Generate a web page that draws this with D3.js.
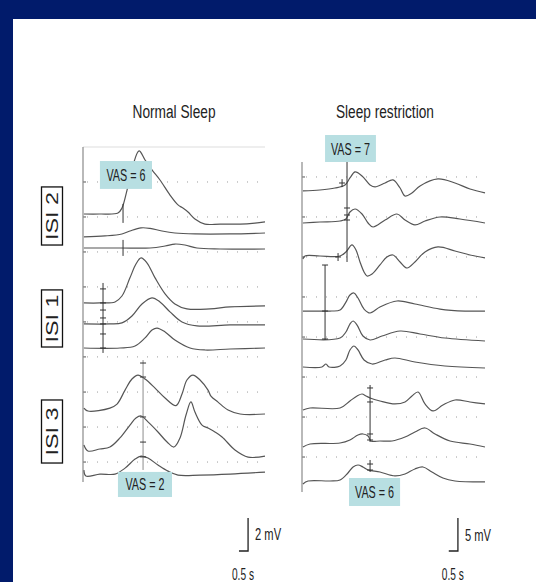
<!DOCTYPE html>
<html>
<head>
<meta charset="utf-8">
<script src="https://cdn.jsdelivr.net/npm/d3@7"></script>
<style>
  html, body { margin: 0; padding: 0; background: #011b6b; }
  svg { display: block; }
  text { font-family: "Liberation Sans Narrow", "Liberation Sans", Arial, sans-serif; fill: #222; }
</style>
</head>
<body>
<script>
var w = 536,
    h = 582;

// time in s, amplitude in mV (relative to each trace's baseline)
var normalBaselines = [16.24, 14.85, 14.18, 10.85, 9.58, 8.12, 4.48, 2.12, 0.48];
var normalTraces = [
  [[0.05,0],[0.93,0],[1.92,0.06],[2.14,0.36],[2.42,1.45],[2.75,2.97],[3.08,3.82],[3.41,3.27],[3.79,2.67],[4.23,2.06],[4.78,1.15],[5.22,0.55],[5.49,0.36],[5.77,0.12],[6.15,-0.3],[6.7,-0.61],[7.53,-0.61],[8.63,-0.61],[9.45,-0.55],[10,-0.48]],
  [[0.05,0],[1.21,0.06],[2.14,0.18],[2.58,0.36],[3.19,0.55],[3.68,0.52],[4.34,0.36],[5.05,0.24],[6.15,0.18],[8.08,0.18],[10,0.24]],
  [[0.05,0],[2.03,0],[3.68,0],[4.51,0.12],[5.05,0.24],[5.6,0.18],[6.26,0],[7.53,-0.06],[10,-0.06]],
  [[0.05,0],[0.93,0],[1.76,0.06],[2.14,0.42],[2.58,1.52],[2.91,2.36],[3.19,2.73],[3.52,2.42],[3.96,1.52],[4.51,0.55],[5.05,-0.06],[5.71,-0.36],[6.98,-0.36],[8.08,-0.24],[10,-0.18]],
  [[0.05,0],[1.48,0],[2.14,0.06],[2.69,0.48],[3.24,1.21],[3.79,1.58],[4.23,1.33],[4.78,0.73],[5.44,0.12],[6.26,-0.12],[8.08,-0.06],[10,-0.06]],
  [[0.05,0],[2.03,0],[2.86,0.12],[3.41,0.61],[3.79,1.09],[4.07,1.21],[4.51,0.97],[5.05,0.48],[5.88,0],[6.7,-0.12],[8.08,-0.06],[10,0]],
  [[0.05,0],[0.27,-0.18],[1.48,0],[1.87,0.24],[2.31,1.09],[2.69,1.76],[3.02,2.0],[3.41,1.76],[3.96,1.21],[4.51,0.61],[5.11,0.15],[5.44,0.85],[5.71,1.7],[6.04,2.0],[6.43,1.7],[6.87,1.09],[7.03,0.73],[7.42,0.36],[7.97,-0.12],[8.63,-0.36],[10,-0.36]],
  [[0.05,0.12],[0.27,-0.24],[0.93,-0.12],[1.48,0],[2.03,0.55],[2.58,1.33],[2.91,1.76],[3.19,1.88],[3.57,1.52],[4.12,0.91],[4.62,0.3],[5.0,0],[5.33,0.55],[5.66,1.94],[5.93,2.73],[6.15,2.12],[6.54,1.33],[6.87,1.15],[7.25,0.91],[7.64,0.61],[8.35,-0.18],[9.07,-0.61],[10,-0.55]],
  [[0.05,0.24],[0.16,-0.12],[0.93,0],[1.76,0],[2.31,0.36],[2.86,0.91],[3.19,1.09],[3.57,0.97],[4.12,0.55],[4.67,0.18],[5.22,-0.06],[6.43,-0.06],[8.08,0],[10,0.12]]
];
var normalGrid = [1.21, 3.33, 5.45, 7.58, 9.7, 11.82, 13.94, 16.06, 18.18];

var restrictBaselines = [45.61, 40.91, 35.61, 27.42, 23.18, 18.94, 12.73, 7.12, 1.67];
var restrictTraces = [
  [[0.05,0],[0.98,0.15],[1.8,0.45],[2.35,0.91],[2.62,1.97],[2.9,2.88],[3.28,2.27],[3.72,0.91],[3.99,0.61],[4.54,1.21],[4.97,1.67],[5.36,0.45],[5.63,-0.76],[6.01,-0.3],[6.45,0.76],[7.43,1.82],[8.36,1.21],[9.18,0.3],[10,-0.3]],
  [[0.05,-0.15],[0.98,0],[2.08,0.15],[2.4,0.45],[2.62,1.52],[2.9,1.97],[3.28,1.21],[3.61,-0.15],[3.88,-0.76],[4.54,0.3],[5.19,1.21],[5.63,0.3],[6.17,-0.45],[6.72,0.15],[7.54,0.76],[8.63,0.45],[10,-0.15]],
  [[0.05,-0.3],[0.16,0.15],[0.98,0.15],[2.08,0.15],[2.4,0.76],[2.73,1.82],[2.95,1.06],[3.17,-0.76],[3.39,-2.27],[3.55,-2.88],[3.83,-2.58],[4.26,-1.21],[4.64,0],[4.97,0.3],[5.36,-0.76],[5.74,-1.67],[6.17,-0.76],[6.72,0.76],[7.43,1.52],[8.36,0.91],[9.18,0.3],[10,-0.15]],
  [[0.05,0],[1.53,0],[2.08,0.15],[2.4,1.36],[2.62,2.42],[2.84,2.73],[3.06,1.97],[3.39,0.3],[3.72,-0.3],[4.26,0.61],[5.19,1.52],[6.17,1.06],[7.54,0.3],[8.91,0],[10,0]],
  [[0.05,0],[2.08,0.15],[2.4,1.06],[2.62,2.27],[2.79,2.73],[3.01,2.12],[3.33,0.45],[3.72,-0.15],[4.37,0.45],[5.36,1.21],[6.45,0.76],[7.81,0.15],[10,-0.3]],
  [[0.05,0],[1.09,0],[1.31,0.45],[1.48,0],[2.08,0.15],[2.4,1.06],[2.62,2.58],[2.84,3.18],[3.06,2.58],[3.39,1.06],[3.83,0.45],[4.54,1.06],[5.08,1.36],[6.17,0.76],[7.81,0.15],[10,-0.15]],
  [[0.05,-0.3],[0.44,0],[2.08,0],[2.62,1.06],[3.01,1.82],[3.28,2.12],[3.5,1.82],[3.72,1.52],[4.26,1.06],[5.08,0.61],[5.63,0.91],[6.01,1.82],[6.34,2.42],[6.72,0.61],[7.16,-0.45],[7.7,0.45],[8.36,1.21],[9.18,0.91],[10,0.61]],
  [[0.05,-0.3],[0.44,0.15],[2.08,0.3],[2.62,0.76],[3.06,1.52],[3.33,1.67],[3.61,1.36],[3.77,0.61],[4.26,0.61],[4.92,0.61],[5.63,1.21],[6.17,1.97],[6.72,2.58],[7.27,1.67],[8.09,0.61],[9.18,0.15],[10,-0.3]],
  [[0.05,-0.45],[0.33,0],[1.53,0],[2.08,0.15],[2.51,1.21],[2.79,2.12],[3.06,2.42],[3.33,2.12],[3.61,1.67],[4.26,1.36],[5.08,0.76],[5.63,1.06],[6.17,1.82],[6.61,2.12],[7.1,1.36],[7.7,0.45],[8.36,0],[10,-0.15]]
];
var restrictGrid = [5.3, 11.36, 17.42, 23.48, 29.55, 35.61, 41.67, 47.73];

// stimulus markers: time, vertical extent, cross positions (mV)
var normalMarkers = [
  {t: 2.2, from: 16.85, to: 15.7, ticks: []},
  {t: 2.2, from: 14.67, to: 13.7, ticks: []},
  {t: 1.1, from: 12.06, to: 7.82, ticks: [11.7, 10.85, 10.42, 9.94, 9.58, 8.97, 8.12]},
  {t: 3.3, from: 7.39, to: 0.73, ticks: [7.21, 6.36, 3.94, 2.42, 1.52], light: true}
];
var restrictMarkers = [
  {t: 2.46, from: 50.6, to: 34.85, ticks: [43.03, 41.97, 41.21]},
  {t: 2.19, from: 47.4, to: 46.2, ticks: [46.82]},
  {t: 1.97, from: 36.2, to: 35.0, ticks: [35.61]},
  {t: 1.26, from: 34.39, to: 23.03, ticks: [34.39, 27.42, 23.18]},
  {t: 3.72, from: 16.21, to: 7.58, ticks: [15.76, 13.64, 8.79, 7.88]},
  {t: 3.72, from: 4.85, to: 3.03, ticks: [4.24, 3.33]}
];

var titles = ["Normal Sleep", "Sleep restriction"];
var isiLabels = ["ISI 2", "ISI 1", "ISI 3"];
var normalVas = [{text: "VAS = 6", t0: 0.93, t1: 3.79, v0: 19.45, v1: 17.76},
                 {text: "VAS  = 2", t0: 1.92, t1: 4.89, v0: 0.61, v1: -0.91}];
var restrictVas = [{text: "VAS = 7", t0: 1.26, t1: 4.04, v0: 54.09, v1: 50},
                   {text: "VAS = 6", t0: 2.57, t1: 5.36, v0: 2.12, v1: -2.12}];
var scaleBars = [{mv: 2, s: 0.5, label: "2 mV"}, {mv: 5, s: 0.5, label: "5 mV"}];

var svg = d3.select("body").append("svg")
    .attr("width", w)
    .attr("height", h);

svg.append("rect").attr("width", w).attr("height", h).attr("fill", "#011b6b");
svg.append("rect").attr("x", 13).attr("y", 19).attr("width", w - 13).attr("height", h - 19).attr("fill", "#fff");

var panels = [
  {x: d3.scaleLinear().domain([0, 10]).range([83, 265]),
   y: d3.scaleLinear().domain([0, 20.3]).range([482, 147]),
   bases: normalBaselines, traces: normalTraces, grid: normalGrid, markers: normalMarkers,
   vas: normalVas, title: titles[0], titleT: 5.0, titleW: 83, bar: scaleBars[0], barT: 9.07, barV: -4.18, topLine: true},
  {x: d3.scaleLinear().domain([0, 10]).range([302, 485]),
   y: d3.scaleLinear().domain([0, 50]).range([492, 162]),
   bases: restrictBaselines, traces: restrictTraces, grid: restrictGrid, markers: restrictMarkers,
   vas: restrictVas, title: titles[1], titleT: 4.53, titleW: 98, bar: scaleBars[1], barT: 8.52, barV: -8.94, topLine: false}
];

panels.forEach(function(p) {
  var g = svg.append("g");
  var x = p.x, y = p.y;
  var x0 = x.range()[0], x1 = x.range()[1];

  // title
  g.append("text")
    .attr("x", x(p.titleT))
    .attr("y", 118)
    .attr("text-anchor", "middle")
    .attr("font-size", 18)
    .attr("textLength", p.titleW)
    .attr("lengthAdjust", "spacingAndGlyphs")
    .text(p.title);

  // dotted grid rows
  g.selectAll("line.grid").data(p.grid).enter().append("line")
    .attr("x1", x0 + 4).attr("x2", x1)
    .attr("y1", function(d) { return y(d); })
    .attr("y2", function(d) { return y(d); })
    .attr("stroke", "#9a9a9a")
    .attr("stroke-width", 1)
    .attr("stroke-dasharray", "1,9");

  // axis ticks
  g.selectAll("line.tick").data(p.grid).enter().append("line")
    .attr("x1", x0).attr("x2", x0 + 3)
    .attr("y1", function(d) { return y(d); })
    .attr("y2", function(d) { return y(d); })
    .attr("stroke", "#555");

  if (p.topLine) {
    g.append("line")
      .attr("x1", x0).attr("x2", x1)
      .attr("y1", y.range()[1]).attr("y2", y.range()[1])
      .attr("stroke", "#ddd");
  }

  // vertical axis
  g.append("line")
    .attr("x1", x0).attr("x2", x0)
    .attr("y1", y.range()[1]).attr("y2", y.range()[0])
    .attr("stroke", "#8a8a8a")
    .attr("stroke-width", 1.2);

  // traces
  p.traces.forEach(function(tr, i) {
    var base = p.bases[i];
    var line = d3.line()
      .x(function(d) { return x(d[0]); })
      .y(function(d) { return y(base + d[1]); })
      .curve(d3.curveCatmullRom.alpha(0.5));
    g.append("path")
      .attr("d", line(tr))
      .attr("fill", "none")
      .attr("stroke", "#555")
      .attr("stroke-width", 1.2);
  });

  // markers
  p.markers.forEach(function(m) {
    g.append("line")
      .attr("x1", x(m.t)).attr("x2", x(m.t))
      .attr("y1", y(m.from)).attr("y2", y(m.to))
      .attr("stroke", m.light ? "#8c8c8c" : "#333")
      .attr("stroke-width", 1);
    m.ticks.forEach(function(v) {
      g.append("line")
        .attr("x1", x(m.t) - 3).attr("x2", x(m.t) + 3)
        .attr("y1", y(v)).attr("y2", y(v))
        .attr("stroke", "#333");
    });
  });

  // VAS boxes
  p.vas.forEach(function(v) {
    g.append("rect")
      .attr("x", x(v.t0)).attr("y", y(v.v0))
      .attr("width", x(v.t1) - x(v.t0))
      .attr("height", y(v.v1) - y(v.v0))
      .attr("fill", "#b8dfe2");
    g.append("text")
      .attr("x", (x(v.t0) + x(v.t1)) / 2)
      .attr("y", (y(v.v0) + y(v.v1)) / 2 + 6)
      .attr("text-anchor", "middle")
      .attr("font-size", 16)
      .attr("textLength", 39)
      .attr("lengthAdjust", "spacingAndGlyphs")
      .text(v.text);
  });

  // scale bar
  var by = y(p.barV);
  var bt = x(p.barT), bl = x(p.barT - p.bar.s);
  var top = y(p.barV + p.bar.mv);
  g.append("path")
    .attr("d", "M" + bl + "," + by + "H" + bt + "V" + top)
    .attr("fill", "none")
    .attr("stroke", "#222")
    .attr("stroke-width", 1.3);
  g.append("text")
    .attr("x", bt + 7).attr("y", (by + top) / 2 + 6)
    .attr("font-size", 16)
    .attr("textLength", 26)
    .attr("lengthAdjust", "spacingAndGlyphs")
    .text(p.bar.label);
  g.append("text")
    .attr("x", bl - 7).attr("y", 580)
    .attr("font-size", 16)
    .attr("textLength", 22)
    .attr("lengthAdjust", "spacingAndGlyphs")
    .text(p.bar.s + " s");
});

// ISI label boxes (left of the normal panel)
var yN = panels[0].y;
var isiBoxes = [{label: isiLabels[0], v0: 17.88, v1: 14.36},
                {label: isiLabels[1], v0: 11.64, v1: 8.18},
                {label: isiLabels[2], v0: 4.97, v1: 1.15}];
isiBoxes.forEach(function(b) {
  var top = yN(b.v0), bot = yN(b.v1);
  svg.append("rect")
    .attr("x", 41.5).attr("y", top)
    .attr("width", 21).attr("height", bot - top)
    .attr("fill", "#fff")
    .attr("stroke", "#111")
    .attr("stroke-width", 1.3);
  svg.append("text")
    .attr("transform", "translate(58," + ((top + bot) / 2) + ") rotate(-90)")
    .attr("text-anchor", "middle")
    .attr("font-family", "Liberation Sans, Arial, sans-serif")
    .attr("font-size", 17)
    .attr("textLength", 48)
    .attr("lengthAdjust", "spacingAndGlyphs")
    .text(b.label);
});
</script>
</body>
</html>
